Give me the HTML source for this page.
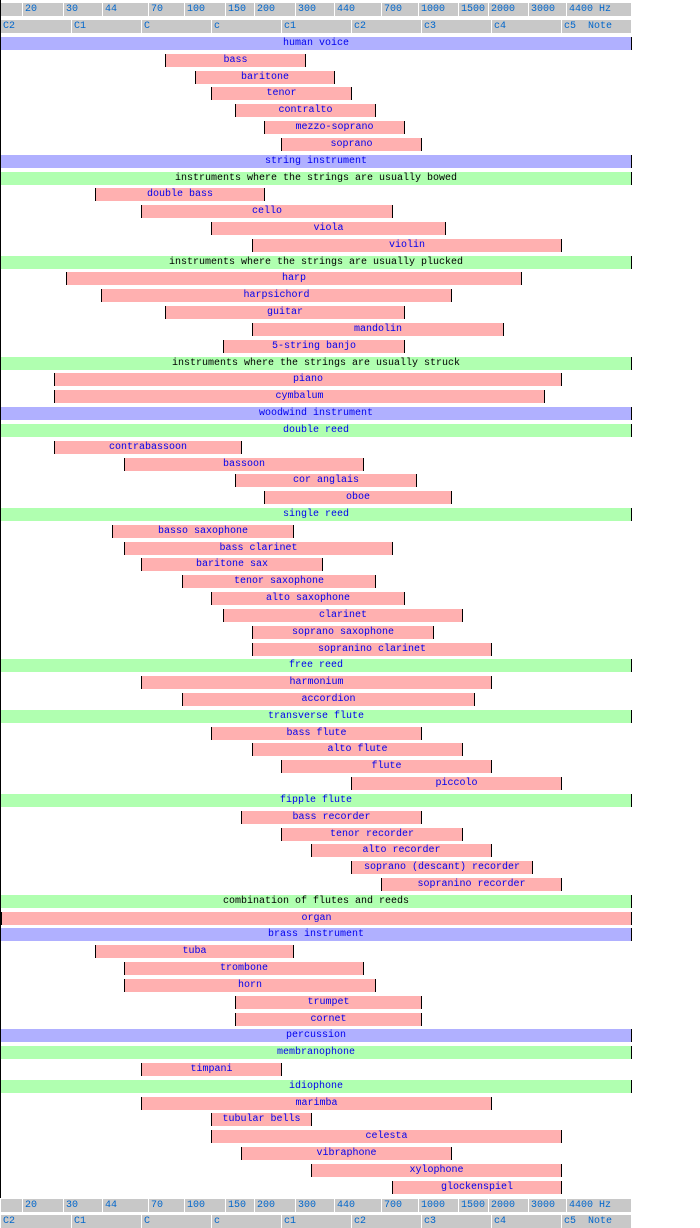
<!DOCTYPE html>
<html><head><meta charset="utf-8"><style>
body{margin:0;width:700px;height:1227px;background:#fff;position:relative;overflow:hidden;font-family:"Liberation Mono","DejaVu Sans Mono",monospace;font-size:10px}
.b{position:absolute;height:13px;line-height:14px;text-align:center;color:#0000ee;white-space:nowrap;box-sizing:border-box;border-left:1px solid #000;border-right:1px solid #000;background:#ffb0b0;overflow:hidden}
.c{background:#b0b0ff;border-left:none}
.g{background:#b0ffb0;border-left:none}
.k{color:#000}
.s{position:absolute;height:13px;line-height:14px;background:#c8c8c8;color:#0066cc;padding-left:2px;box-sizing:border-box;white-space:pre;overflow:hidden}
.v{position:absolute;left:0;top:0;width:1px;height:1198px;background:#000}
</style></head><body>
<div class="v"></div>
<div class="s" style="top:3px;left:1px;width:21px"></div>
<div class="s" style="top:3px;left:23px;width:40px">20</div>
<div class="s" style="top:3px;left:64px;width:38px">30</div>
<div class="s" style="top:3px;left:103px;width:45px">44</div>
<div class="s" style="top:3px;left:149px;width:35px">70</div>
<div class="s" style="top:3px;left:185px;width:40px">100</div>
<div class="s" style="top:3px;left:226px;width:28px">150</div>
<div class="s" style="top:3px;left:255px;width:40px">200</div>
<div class="s" style="top:3px;left:296px;width:38px">300</div>
<div class="s" style="top:3px;left:335px;width:46px">440</div>
<div class="s" style="top:3px;left:382px;width:36px">700</div>
<div class="s" style="top:3px;left:419px;width:39px">1000</div>
<div class="s" style="top:3px;left:459px;width:29px">1500</div>
<div class="s" style="top:3px;left:489px;width:39px">2000</div>
<div class="s" style="top:3px;left:529px;width:37px">3000</div>
<div class="s" style="top:3px;left:567px;width:64px">4400 Hz</div>
<div class="s" style="top:20px;left:1px;width:70px">C2</div>
<div class="s" style="top:20px;left:72px;width:69px">C1</div>
<div class="s" style="top:20px;left:142px;width:69px">C</div>
<div class="s" style="top:20px;left:212px;width:69px">c</div>
<div class="s" style="top:20px;left:282px;width:69px">c1</div>
<div class="s" style="top:20px;left:352px;width:69px">c2</div>
<div class="s" style="top:20px;left:422px;width:69px">c3</div>
<div class="s" style="top:20px;left:492px;width:69px">c4</div>
<div class="s" style="top:20px;left:562px;width:69px">c5  Note</div>

<div class="b c" style="top:37px;left:1px;width:631px">human voice</div>
<div class="b" style="top:54px;left:165px;width:141px">bass</div>
<div class="b" style="top:71px;left:195px;width:140px">baritone</div>
<div class="b" style="top:87px;left:211px;width:141px">tenor</div>
<div class="b" style="top:104px;left:235px;width:141px">contralto</div>
<div class="b" style="top:121px;left:264px;width:141px">mezzo-soprano</div>
<div class="b" style="top:138px;left:281px;width:141px">soprano</div>
<div class="b c" style="top:155px;left:1px;width:631px">string instrument</div>
<div class="b g k" style="top:172px;left:1px;width:631px">instruments where the strings are usually bowed</div>
<div class="b" style="top:188px;left:95px;width:170px">double bass</div>
<div class="b" style="top:205px;left:141px;width:252px">cello</div>
<div class="b" style="top:222px;left:211px;width:235px">viola</div>
<div class="b" style="top:239px;left:252px;width:310px">violin</div>
<div class="b g k" style="top:256px;left:1px;width:631px">instruments where the strings are usually plucked</div>
<div class="b" style="top:272px;left:66px;width:456px">harp</div>
<div class="b" style="top:289px;left:101px;width:351px">harpsichord</div>
<div class="b" style="top:306px;left:165px;width:240px">guitar</div>
<div class="b" style="top:323px;left:252px;width:252px">mandolin</div>
<div class="b" style="top:340px;left:223px;width:182px">5-string banjo</div>
<div class="b g k" style="top:357px;left:1px;width:631px">instruments where the strings are usually struck</div>
<div class="b" style="top:373px;left:54px;width:508px">piano</div>
<div class="b" style="top:390px;left:54px;width:491px">cymbalum</div>
<div class="b c" style="top:407px;left:1px;width:631px">woodwind instrument</div>
<div class="b g" style="top:424px;left:1px;width:631px">double reed</div>
<div class="b" style="top:441px;left:54px;width:188px">contrabassoon</div>
<div class="b" style="top:458px;left:124px;width:240px">bassoon</div>
<div class="b" style="top:474px;left:235px;width:182px">cor anglais</div>
<div class="b" style="top:491px;left:264px;width:188px">oboe</div>
<div class="b g" style="top:508px;left:1px;width:631px">single reed</div>
<div class="b" style="top:525px;left:112px;width:182px">basso saxophone</div>
<div class="b" style="top:542px;left:124px;width:269px">bass clarinet</div>
<div class="b" style="top:558px;left:141px;width:182px">baritone sax</div>
<div class="b" style="top:575px;left:182px;width:194px">tenor saxophone</div>
<div class="b" style="top:592px;left:211px;width:194px">alto saxophone</div>
<div class="b" style="top:609px;left:223px;width:240px">clarinet</div>
<div class="b" style="top:626px;left:252px;width:182px">soprano saxophone</div>
<div class="b" style="top:643px;left:252px;width:240px">sopranino clarinet</div>
<div class="b g" style="top:659px;left:1px;width:631px">free reed</div>
<div class="b" style="top:676px;left:141px;width:351px">harmonium</div>
<div class="b" style="top:693px;left:182px;width:293px">accordion</div>
<div class="b g" style="top:710px;left:1px;width:631px">transverse flute</div>
<div class="b" style="top:727px;left:211px;width:211px">bass flute</div>
<div class="b" style="top:743px;left:252px;width:211px">alto flute</div>
<div class="b" style="top:760px;left:281px;width:211px">flute</div>
<div class="b" style="top:777px;left:351px;width:211px">piccolo</div>
<div class="b g" style="top:794px;left:1px;width:631px">fipple flute</div>
<div class="b" style="top:811px;left:241px;width:181px">bass recorder</div>
<div class="b" style="top:828px;left:281px;width:182px">tenor recorder</div>
<div class="b" style="top:844px;left:311px;width:181px">alto recorder</div>
<div class="b" style="top:861px;left:351px;width:182px">soprano (descant) recorder</div>
<div class="b" style="top:878px;left:381px;width:181px">sopranino recorder</div>
<div class="b g k" style="top:895px;left:1px;width:631px">combination of flutes and reeds</div>
<div class="b" style="top:912px;left:1px;width:631px">organ</div>
<div class="b c" style="top:928px;left:1px;width:631px">brass instrument</div>
<div class="b" style="top:945px;left:95px;width:199px">tuba</div>
<div class="b" style="top:962px;left:124px;width:240px">trombone</div>
<div class="b" style="top:979px;left:124px;width:252px">horn</div>
<div class="b" style="top:996px;left:235px;width:187px">trumpet</div>
<div class="b" style="top:1013px;left:235px;width:187px">cornet</div>
<div class="b c" style="top:1029px;left:1px;width:631px">percussion</div>
<div class="b g" style="top:1046px;left:1px;width:631px">membranophone</div>
<div class="b" style="top:1063px;left:141px;width:141px">timpani</div>
<div class="b g" style="top:1080px;left:1px;width:631px">idiophone</div>
<div class="b" style="top:1097px;left:141px;width:351px">marimba</div>
<div class="b" style="top:1113px;left:211px;width:101px">tubular bells</div>
<div class="b" style="top:1130px;left:211px;width:351px">celesta</div>
<div class="b" style="top:1147px;left:241px;width:211px">vibraphone</div>
<div class="b" style="top:1164px;left:311px;width:251px">xylophone</div>
<div class="b" style="top:1181px;left:392px;width:170px">glockenspiel</div>

<div class="s" style="top:1199px;left:1px;width:21px"></div>
<div class="s" style="top:1199px;left:23px;width:40px">20</div>
<div class="s" style="top:1199px;left:64px;width:38px">30</div>
<div class="s" style="top:1199px;left:103px;width:45px">44</div>
<div class="s" style="top:1199px;left:149px;width:35px">70</div>
<div class="s" style="top:1199px;left:185px;width:40px">100</div>
<div class="s" style="top:1199px;left:226px;width:28px">150</div>
<div class="s" style="top:1199px;left:255px;width:40px">200</div>
<div class="s" style="top:1199px;left:296px;width:38px">300</div>
<div class="s" style="top:1199px;left:335px;width:46px">440</div>
<div class="s" style="top:1199px;left:382px;width:36px">700</div>
<div class="s" style="top:1199px;left:419px;width:39px">1000</div>
<div class="s" style="top:1199px;left:459px;width:29px">1500</div>
<div class="s" style="top:1199px;left:489px;width:39px">2000</div>
<div class="s" style="top:1199px;left:529px;width:37px">3000</div>
<div class="s" style="top:1199px;left:567px;width:64px">4400 Hz</div>
<div class="s" style="top:1215px;left:1px;width:70px">C2</div>
<div class="s" style="top:1215px;left:72px;width:69px">C1</div>
<div class="s" style="top:1215px;left:142px;width:69px">C</div>
<div class="s" style="top:1215px;left:212px;width:69px">c</div>
<div class="s" style="top:1215px;left:282px;width:69px">c1</div>
<div class="s" style="top:1215px;left:352px;width:69px">c2</div>
<div class="s" style="top:1215px;left:422px;width:69px">c3</div>
<div class="s" style="top:1215px;left:492px;width:69px">c4</div>
<div class="s" style="top:1215px;left:562px;width:69px">c5  Note</div>
</body></html>
